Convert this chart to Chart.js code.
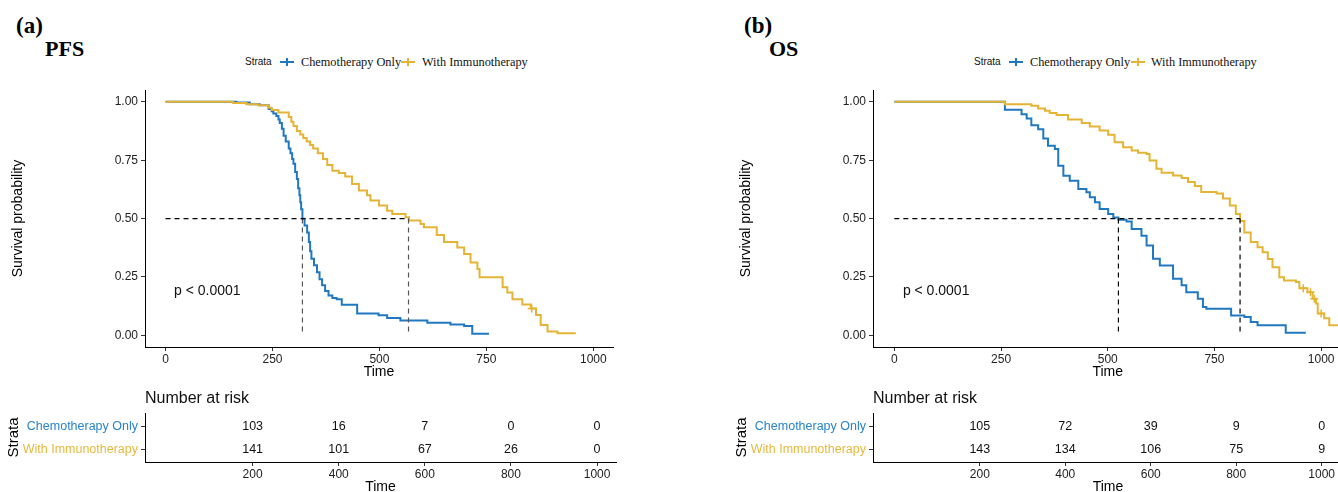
<!DOCTYPE html>
<html><head><meta charset="utf-8">
<script src="https://cdn.jsdelivr.net/npm/chart.js@4.4.1/dist/chart.umd.min.js"></script>
<style>
html,body{margin:0;padding:0;background:#fff;}
body{width:1338px;height:492px;overflow:hidden;position:relative;}
.abs{position:absolute;white-space:nowrap;}
.ttl{font-family:"Liberation Serif","Times New Roman",serif;font-weight:bold;font-size:23px;line-height:23px;color:#000;}
.leg{font-family:"Liberation Serif","Times New Roman",serif;font-size:12.3px;line-height:12px;color:#111;top:56px;}
.strata{font-family:"Liberation Sans",Arial,sans-serif;font-size:10px;line-height:12px;color:#111;top:56px;}
.key{width:14px;height:8px;top:58px;}
.key::before{content:"";position:absolute;left:0;right:0;top:3px;height:2px;background:currentColor;}
.key::after{content:"";position:absolute;left:6px;width:2px;top:0;height:8px;background:currentColor;}
canvas{position:absolute;}
</style></head>
<body>
<div class="abs ttl" style="left:16px;top:14px">(a)</div>
<div class="abs ttl" style="left:45px;top:37px;font-size:22px">PFS</div>
<div class="abs strata" style="left:245px">Strata</div>
<div class="abs key" style="left:280px;color:#1f78c0"></div>
<div class="abs leg" style="left:301px">Chemotherapy Only</div>
<div class="abs key" style="left:401px;color:#e5b434"></div>
<div class="abs leg" style="left:422px">With Immunotherapy</div>

<div class="abs ttl" style="left:744px;top:14px">(b)</div>
<div class="abs ttl" style="left:769px;top:37px;font-size:22px">OS</div>
<div class="abs strata" style="left:974px">Strata</div>
<div class="abs key" style="left:1009px;color:#1f78c0"></div>
<div class="abs leg" style="left:1030px">Chemotherapy Only</div>
<div class="abs key" style="left:1131px;color:#e5b434"></div>
<div class="abs leg" style="left:1151px">With Immunotherapy</div>

<script>
// ---------------- data ----------------
const xTicks = [0, 250, 500, 750, 1000];
const yTicks = [0, 0.25, 0.5, 0.75, 1];
const riskTimes = [200, 400, 600, 800, 1000];
const strataNames = ['Chemotherapy Only', 'With Immunotherapy'];

// PFS
const pfsChemoT = [0, 166, 197, 220, 241, 248, 252, 259, 264, 267, 272, 276, 281, 288, 292, 296, 299, 303, 307, 310, 313, 315, 317, 320, 325, 331, 335, 338, 341, 347, 354, 360, 366, 373, 381, 390, 400, 412, 448, 498, 518, 549, 612, 666, 698, 717, 756];
const pfsChemoS = [1, 0.997, 0.99, 0.985, 0.969, 0.96, 0.95, 0.94, 0.925, 0.91, 0.885, 0.855, 0.83, 0.80, 0.78, 0.755, 0.735, 0.70, 0.67, 0.63, 0.60, 0.57, 0.54, 0.499, 0.47, 0.44, 0.40, 0.36, 0.328, 0.30, 0.27, 0.24, 0.214, 0.19, 0.171, 0.16, 0.155, 0.131, 0.093, 0.086, 0.074, 0.064, 0.054, 0.046, 0.04, 0.007, 0.007];
const pfsImmT = [0, 158, 189, 216, 240, 248, 264, 288, 294, 299, 307, 315, 322, 330, 338, 345, 356, 368, 378, 390, 405, 420, 436, 452, 471, 479, 499, 518, 530, 561, 569, 596, 604, 634, 651, 682, 698, 713, 729, 734, 788, 799, 811, 834, 854, 866, 877, 893, 916, 959];
const pfsImmS = [1, 0.995, 0.99, 0.985, 0.975, 0.965, 0.955, 0.935, 0.915, 0.897, 0.875, 0.86, 0.845, 0.83, 0.815, 0.80, 0.78, 0.755, 0.73, 0.705, 0.695, 0.68, 0.648, 0.62, 0.60, 0.577, 0.556, 0.534, 0.52, 0.506, 0.492, 0.477, 0.463, 0.43, 0.40, 0.376, 0.348, 0.312, 0.284, 0.249, 0.206, 0.183, 0.155, 0.132, 0.115, 0.087, 0.044, 0.016, 0.009, 0.009];
const pfsCensorT = [856];
const pfsCensorS = [0.115];
const pfsMedians = [320, 568];
const pfsRiskChemo = [103, 16, 7, 0, 0];
const pfsRiskImm = [141, 101, 67, 26, 0];

// OS
const osChemoT = [0, 259, 298, 310, 321, 337, 349, 360, 376, 384, 396, 411, 431, 450, 458, 470, 481, 501, 513, 525, 544, 556, 579, 591, 606, 622, 653, 673, 684, 711, 723, 731, 789, 820, 835, 851, 917, 964];
const osChemoS = [1, 0.966, 0.947, 0.929, 0.90, 0.883, 0.843, 0.812, 0.798, 0.726, 0.684, 0.662, 0.627, 0.613, 0.591, 0.57, 0.541, 0.52, 0.505, 0.495, 0.488, 0.455, 0.427, 0.385, 0.328, 0.299, 0.242, 0.214, 0.185, 0.157, 0.121, 0.114, 0.085, 0.078, 0.057, 0.043, 0.011, 0.011];
const osImmT = [0, 259, 321, 337, 353, 364, 380, 407, 439, 458, 481, 501, 516, 536, 556, 571, 591, 598, 614, 626, 653, 673, 688, 704, 719, 755, 770, 786, 800, 810, 820, 835, 851, 863, 875, 886, 902, 913, 941, 949, 968, 980, 988, 992, 1007, 1019, 1045];
const osImmS = [1, 0.99, 0.983, 0.972, 0.962, 0.952, 0.944, 0.924, 0.909, 0.895, 0.877, 0.859, 0.827, 0.806, 0.792, 0.782, 0.777, 0.749, 0.713, 0.696, 0.685, 0.674, 0.657, 0.64, 0.614, 0.607, 0.586, 0.556, 0.52, 0.49, 0.44, 0.40, 0.377, 0.356, 0.327, 0.292, 0.249, 0.235, 0.228, 0.202, 0.185, 0.157, 0.136, 0.093, 0.073, 0.043, 0.043];
const osCensorT = [958, 975, 984, 1000];
const osCensorS = [0.202, 0.185, 0.157, 0.093];
const osMedians = [525, 810];
const osRiskChemo = [105, 72, 39, 9, 0];
const osRiskImm = [143, 134, 106, 75, 9];

// ---------------- styling ----------------
const BLUE = '#1f78c0', YELLOW = '#e5b434';
const BLUE_TXT = '#2a84c9', YELLOW_TXT = '#e6b93f';
const SANS = '"Liberation Sans", Arial, Helvetica, sans-serif';
Chart.defaults.font.family = SANS;
Chart.defaults.color = '#222';

function pts(T, S) { return T.map((t, i) => ({ x: t, y: S[i] })); }

function makeCanvas(left, top, w, h) {
  const c = document.createElement('canvas');
  c.width = w; c.height = h;
  c.style.left = left + 'px'; c.style.top = top + 'px';
  c.style.width = w + 'px'; c.style.height = h + 'px';
  document.body.appendChild(c);
  return c;
}

const pTextPlugin = {
  id: 'ptext',
  afterDatasetsDraw(chart, args, opts) {
    const { ctx, scales } = chart;
    ctx.save();
    ctx.font = '14px ' + SANS;
    ctx.fillStyle = '#111';
    ctx.textAlign = 'left';
    ctx.textBaseline = 'middle';
    ctx.fillText(opts.text, scales.x.getPixelForValue(opts.x), scales.y.getPixelForValue(opts.y));
    ctx.restore();
  }
};

function mainChart(left, cfg) {
  const W = 620, H = 310, TOP = 80;
  const c = makeCanvas(left, TOP, W, H);
  const dash = (data, color) => ({ type: 'line', data, borderColor: color, borderWidth: 1.2, borderDash: [5, 4], pointRadius: 0, fill: false });
  new Chart(c, {
    type: 'line',
    data: {
      datasets: [
        dash([{ x: 0, y: 0.5 }, { x: cfg.medians[1], y: 0.5 }], '#000'),
        dash([{ x: cfg.medians[0], y: 0.5 }, { x: cfg.medians[0], y: 0 }], cfg.vColor),
        dash([{ x: cfg.medians[1], y: 0.5 }, { x: cfg.medians[1], y: 0 }], cfg.vColor),
        { type: 'scatter', data: pts(cfg.censT, cfg.censS), pointStyle: 'cross', pointRadius: 4, borderColor: YELLOW, borderWidth: 1.5, showLine: false },
        { data: pts(cfg.immT, cfg.immS), borderColor: YELLOW, borderWidth: 2, stepped: 'before', pointRadius: 0, fill: false },
        { data: pts(cfg.chemoT, cfg.chemoS), borderColor: BLUE, borderWidth: 2, stepped: 'before', pointRadius: 0, fill: false }
      ]
    },
    options: {
      responsive: false, animation: false, devicePixelRatio: 1,
      layout: { padding: { top: 8, right: cfg.padRight, left: 0, bottom: 0 } },
      plugins: { legend: { display: false }, tooltip: { enabled: false }, ptext: { text: 'p < 0.0001', x: 20, y: 0.19 } },
      scales: {
        x: {
          type: 'linear', min: cfg.xMin, max: cfg.xMax,
          afterBuildTicks: a => { a.ticks = xTicks.map(v => ({ value: v })); },
          afterFit: a => { a.height = 43; },
          ticks: { font: { size: 12 }, color: '#222', maxRotation: 0, padding: 1, callback: v => String(v) },
          grid: { drawOnChartArea: false, drawTicks: true, tickLength: 4, color: '#333' },
          border: { color: '#000', width: 1 },
          title: { display: true, text: 'Time', font: { size: 14 }, color: '#000', padding: { top: 0, bottom: 9 } }
        },
        y: {
          type: 'linear', min: -0.05, max: 1.05,
          afterBuildTicks: a => { a.ticks = yTicks.map(v => ({ value: v })); },
          afterFit: a => { a.width = 145; },
          ticks: { font: { size: 12 }, color: '#222', padding: 3, callback: v => Number(v).toFixed(2) },
          grid: { drawOnChartArea: false, drawTicks: true, tickLength: 4, color: '#333' },
          border: { color: '#000', width: 1 },
          title: { display: true, text: 'Survival probability', font: { size: 14 }, color: '#000', padding: { top: 10, bottom: 0 } }
        }
      }
    },
    plugins: [pTextPlugin]
  });
}

const riskPlugin = {
  id: 'risklabels',
  afterDatasetsDraw(chart) {
    const { ctx, chartArea } = chart;
    ctx.save();
    ctx.fillStyle = '#111';
    ctx.font = '12.5px ' + SANS;
    ctx.textAlign = 'center';
    ctx.textBaseline = 'middle';
    chart.data.datasets.forEach((ds, di) => {
      const meta = chart.getDatasetMeta(di);
      meta.data.forEach((el, i) => { ctx.fillText(String(ds.data[i].n), el.x, el.y); });
    });
    ctx.font = '16px ' + SANS;
    ctx.textAlign = 'left';
    ctx.fillText('Number at risk', chartArea.left, chartArea.top - 14.5);
    ctx.restore();
  }
};

function riskChart(left, cfg) {
  const W = 620, H = 120, TOP = 384;
  const c = makeCanvas(left, TOP, W, H);
  new Chart(c, {
    type: 'scatter',
    data: {
      datasets: [
        { data: riskTimes.map((t, i) => ({ x: t, y: 2, n: cfg.chemo[i] })), pointRadius: 0 },
        { data: riskTimes.map((t, i) => ({ x: t, y: 1, n: cfg.imm[i] })), pointRadius: 0 }
      ]
    },
    options: {
      responsive: false, animation: false, devicePixelRatio: 1,
      layout: { padding: { top: 29, right: cfg.padRight, left: 0, bottom: 0 } },
      plugins: { legend: { display: false }, tooltip: { enabled: false } },
      scales: {
        x: {
          type: 'linear', min: cfg.xMin, max: cfg.xMax,
          afterBuildTicks: a => { a.ticks = riskTimes.map(v => ({ value: v })); },
          afterFit: a => { a.height = 42; },
          ticks: { font: { size: 12 }, color: '#222', maxRotation: 0, padding: 1, callback: v => String(v) },
          grid: { drawOnChartArea: false, drawTicks: true, tickLength: 4, color: '#333' },
          border: { color: '#000', width: 1 },
          title: { display: true, text: 'Time', font: { size: 14 }, color: '#000', padding: { top: 0, bottom: 8.6 } }
        },
        y: {
          type: 'linear', min: 0.47, max: 2.6,
          afterBuildTicks: a => { a.ticks = [{ value: 1 }, { value: 2 }]; },
          afterFit: a => { a.width = 145; },
          ticks: {
            font: { size: 12.5 }, padding: 3,
            color: ctx => (ctx.tick && ctx.tick.value === 2) ? BLUE_TXT : YELLOW_TXT,
            callback: v => v === 2 ? strataNames[0] : strataNames[1]
          },
          grid: { drawOnChartArea: false, drawTicks: true, tickLength: 4, color: '#333' },
          border: { color: '#000', width: 1 },
          title: { display: true, text: 'Strata', font: { size: 15 }, color: '#000', padding: { top: 5, bottom: 0 } }
        }
      }
    },
    plugins: [riskPlugin]
  });
}

mainChart(0, { chemoT: pfsChemoT, chemoS: pfsChemoS, immT: pfsImmT, immS: pfsImmS, censT: pfsCensorT, censS: pfsCensorS, medians: pfsMedians, vColor: '#555', xMin: -48, xMax: 1046, padRight: 7 });
mainChart(728, { chemoT: osChemoT, chemoS: osChemoS, immT: osImmT, immS: osImmS, censT: osCensorT, censS: osCensorS, medians: osMedians, vColor: '#000', xMin: -50, xMax: 1050, padRight: 5 });
riskChart(0, { chemo: pfsRiskChemo, imm: pfsRiskImm, xMin: -50, xMax: 1044, padRight: 4 });
riskChart(728, { chemo: osRiskChemo, imm: osRiskImm, xMin: -50, xMax: 1050, padRight: 5 });
</script>
</body></html>
